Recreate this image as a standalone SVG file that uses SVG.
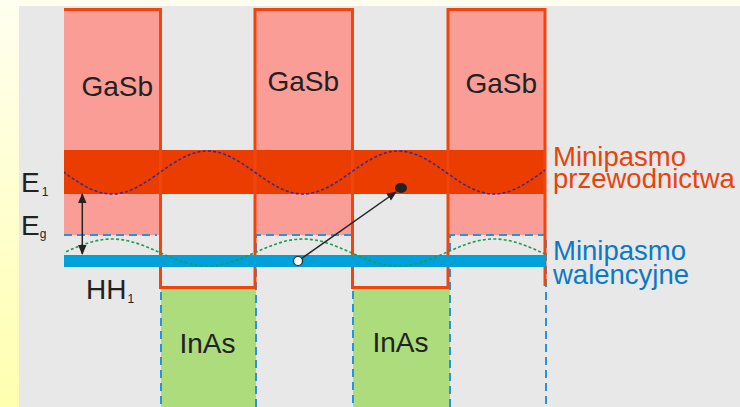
<svg xmlns="http://www.w3.org/2000/svg" width="740" height="407" viewBox="0 0 740 407">
<defs>
<linearGradient id="bgGrad" x1="0" y1="0" x2="0" y2="1">
<stop offset="0" stop-color="#fffff0"/>
<stop offset="1" stop-color="#ffffb0"/>
</linearGradient>
<clipPath id="waveClip"><rect x="64" y="0" width="481" height="407"/></clipPath>
<marker id="arr" viewBox="0 0 10 10" refX="9" refY="5" markerWidth="10" markerHeight="10" markerUnits="userSpaceOnUse" orient="auto-start-reverse">
<path d="M0,0.8 L10,5 L0,9.2 Z" fill="#222"/>
</marker>
<style>
.t{font-family:"Liberation Sans",Arial,sans-serif;fill:#222;}
.big{font-size:28px;}
.sub{font-size:12px;}
.lbl{font-family:"Liberation Sans",Arial,sans-serif;font-size:27.5px;}
.pink{fill:#fa9d97;}
.green{fill:#acdc7c;}
.bdash{fill:none;stroke:#2a92dc;stroke-width:2;stroke-dasharray:8 5;}
.wave{fill:none;stroke-width:1.6;stroke-dasharray:3 2.2;}
</style>
</defs>
<rect x="0" y="0" width="740" height="407" fill="url(#bgGrad)"/>
<rect x="19" y="6" width="721" height="401" fill="#e8e8e8"/>

<g id="gasb1"><rect class="pink" x="64" y="9" width="96" height="226"/><text class="t big" x="81.5" y="96">GaSb</text></g>
<g id="gasb2"><rect class="pink" x="254" y="9" width="99" height="226"/><text class="t big" x="267.5" y="91">GaSb</text></g>
<g id="gasb3"><rect class="pink" x="447" y="9" width="98" height="226"/><text class="t big" x="465.5" y="92.5">GaSb</text></g>
<g id="inas1"><rect class="green" x="161" y="288" width="95" height="119"/><text class="t big" x="179.5" y="353">InAs</text></g>
<g id="inas2"><rect class="green" x="353" y="288" width="97" height="119"/><text class="t big" x="372.5" y="352">InAs</text></g>

<g id="conduction-miniband"><rect x="64" y="150" width="481" height="44" fill="#eb3d00"/></g>

<g id="valence-edge">
<path class="bdash" d="M64,235 H157"/>
<path class="bdash" d="M161,240 V407"/>
<path class="bdash" d="M256,407 V235 H353 V407"/>
<path class="bdash" d="M450,407 V235 H546 V407"/>
</g>

<g id="band-outline"><path d="M64,9.5 H160.5 V287.5 H255 V9.5 H352.5 V287.5 H448 V9.5 H545 V286" fill="none" stroke="#f0460e" stroke-width="3"/></g>

<g id="valence-miniband"><rect x="64" y="255" width="482" height="12" fill="#00a0da"/></g>

<g id="waves" clip-path="url(#waveClip)">
<path class="wave" stroke="#3a2a8e" d="M16.5,151 C51.3,151 77.2,194 112,194 C146.8,194 172.7,151 207.5,151 C242.3,151 268.2,194 303,194 C337.8,194 363.7,151 398.5,151 C433.3,151 459.2,194 494,194 C528.8,194 554.7,151 589.5,151"/>
<path class="wave" stroke="#1d9a55" d="M16.5,266 C51.3,266 77.2,239 112,239 C146.8,239 172.7,266 207.5,266 C242.3,266 268.2,239 303,239 C337.8,239 363.7,266 398.5,266 C433.3,266 459.2,239 494,239 C528.8,239 554.7,266 589.5,266"/>
</g>

<g id="connectors">
<line x1="82.3" y1="194" x2="82.3" y2="254" stroke="#222" stroke-width="1.5" marker-start="url(#arr)" marker-end="url(#arr)"/>
<line x1="298" y1="261" x2="396" y2="192" stroke="#222" stroke-width="1.5" marker-end="url(#arr)"/>
</g>

<g id="hole"><circle cx="298" cy="261" r="4.5" fill="#fff" stroke="#222" stroke-width="1.2"/></g>
<g id="electron"><ellipse cx="401" cy="188" rx="6" ry="5" fill="#222"/></g>

<g id="labels">
<text class="t big" x="21" y="192">E<tspan class="sub" dx="2" dy="4">1</tspan></text>
<text class="t big" x="21" y="235">E<tspan class="sub" dx="0" dy="3">g</tspan></text>
<text class="t big" x="86" y="299">HH<tspan class="sub" dx="1" dy="4">1</tspan></text>
<text class="lbl" fill="#e8430d" x="553" y="166">Minipasmo</text>
<text class="lbl" fill="#e8430d" x="553" y="187.5">przewodnictwa</text>
<text class="lbl" fill="#0b78c9" x="553" y="260">Minipasmo</text>
<text class="lbl" fill="#0b78c9" x="553" y="283.5">walencyjne</text>
</g>
</svg>
